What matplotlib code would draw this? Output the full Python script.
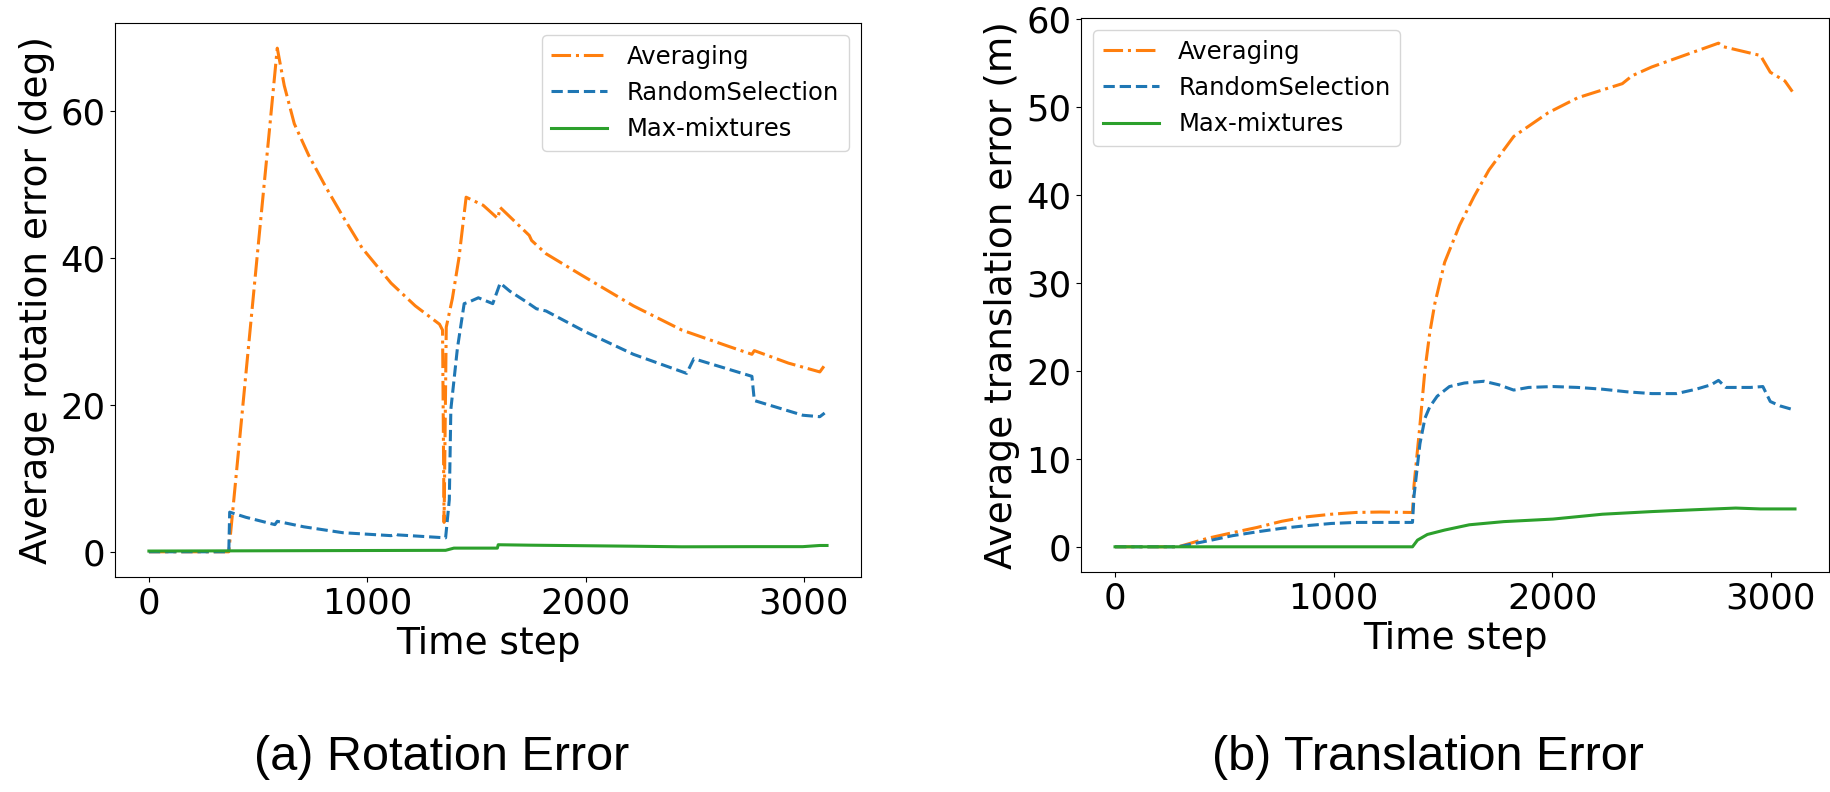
import matplotlib
matplotlib.use("Agg")
import matplotlib.pyplot as plt

# ---- rotation error (deg) ----
rot_avg_t = [0, 366, 400, 450, 500, 550, 588, 620, 666, 732, 810, 888, 976, 1109, 1220, 1331, 1345,
             1352, 1362, 1390, 1420, 1453, 1531, 1598, 1609, 1686, 1742, 1753, 1819, 1975, 2219,
             2441, 2663, 2762, 2773, 2929, 3073, 3095]
rot_avg = [0, 0, 10.5, 26.0, 41.5, 56.8, 68.6, 63.5, 58.3, 54.0, 49.7, 45.7, 41.4, 36.6, 33.5, 31.0, 30.2,
           4.0, 30.6, 34.5, 40.0, 48.3, 47.2, 45.4, 46.9, 44.7, 43.1, 42.4, 40.6, 37.8, 33.5,
           30.2, 27.9, 26.9, 27.4, 25.7, 24.5, 25.4]

rot_rnd_t = [0, 366, 370, 444, 577, 588, 710, 888, 1109, 1132, 1140, 1359, 1376, 1383, 1413, 1444,
             1464, 1509, 1575, 1609, 1653, 1731, 1775, 1819, 1997, 2219, 2463, 2496, 2762, 2773,
             2884, 2995, 3073, 3095]
rot_rnd = [0, 0, 5.4, 4.7, 3.7, 4.15, 3.4, 2.6, 2.2, 2.4, 2.3, 1.9, 7.1, 19.4, 27.7, 33.8,
           34.0, 34.6, 33.8, 36.6, 35.5, 34.0, 33.1, 32.8, 30.0, 26.9, 24.3, 26.3, 23.9, 20.6,
           19.6, 18.6, 18.4, 18.9]

rot_mm_t = [0, 1359, 1397, 1596, 1600, 1746, 2219, 2441, 2773, 2995, 3073, 3106]
rot_mm = [0.1, 0.2, 0.5, 0.5, 0.96, 0.9, 0.76, 0.68, 0.7, 0.7, 0.86, 0.86]

# ---- translation error (m) ----
tr_avg_t = [0, 289, 424, 537, 650, 763, 876, 989, 1102, 1214, 1361, 1368, 1395, 1418, 1440, 1463,
            1508, 1576, 1643, 1711, 1824, 1982, 2117, 2321, 2366, 2456, 2603, 2761, 2783, 2953,
            2998, 3065, 3099]
tr_avg = [0, 0, 0.97, 1.6, 2.2, 2.9, 3.4, 3.7, 3.9, 3.95, 3.9, 7.0, 13.8, 20.1, 24.3, 27.6,
          32.3, 36.5, 39.8, 42.8, 46.6, 49.3, 51.0, 52.6, 53.5, 54.5, 55.8, 57.2, 56.8, 55.8,
          53.9, 52.9, 51.7]

tr_rnd_t = [0, 289, 424, 537, 650, 763, 876, 989, 1102, 1361, 1368, 1395, 1418, 1440, 1474, 1530,
            1598, 1688, 1756, 1824, 1892, 2004, 2117, 2230, 2343, 2456, 2569, 2659, 2727, 2761,
            2795, 2907, 2964, 2998, 3043, 3099]
tr_rnd = [0, 0, 0.67, 1.26, 1.7, 2.1, 2.4, 2.65, 2.77, 2.77, 5.8, 11.7, 14.6, 15.9, 17.1, 18.2,
          18.6, 18.8, 18.4, 17.8, 18.1, 18.2, 18.1, 17.9, 17.6, 17.4, 17.4, 17.9, 18.4, 18.9,
          18.1, 18.1, 18.2, 16.5, 16.0, 15.6]

tr_mm_t = [0, 1361, 1384, 1429, 1508, 1621, 1779, 2004, 2230, 2456, 2682, 2840, 2953, 3111]
tr_mm = [0, 0, 0.76, 1.4, 1.9, 2.5, 2.86, 3.15, 3.7, 4.0, 4.24, 4.4, 4.3, 4.3]

labels = ["Averaging", "RandomSelection", "Max-mixtures"]

fig = plt.figure(figsize=(18.31, 7.92), dpi=100)
ax1 = fig.add_axes([0.0628, 0.2715, 0.4074, 0.6995])
ax2 = fig.add_axes([0.5904, 0.2778, 0.4085, 0.6995])

lw = 2.2
for ax, data in [(ax1, [(rot_avg_t, rot_avg), (rot_rnd_t, rot_rnd), (rot_mm_t, rot_mm)]),
                 (ax2, [(tr_avg_t, tr_avg), (tr_rnd_t, tr_rnd), (tr_mm_t, tr_mm)])]:
    ax.plot(data[0][0], data[0][1], color="tab:orange", linestyle="-.", lw=lw, label=labels[0])
    ax.plot(data[1][0], data[1][1], color="tab:blue", linestyle="--", lw=lw, label=labels[1])
    ax.plot(data[2][0], data[2][1], color="tab:green", linestyle="-", lw=lw, label=labels[2])
    ax.set_xticks([0, 1000, 2000, 3000])
    ax.tick_params(labelsize=25.5)
    ax.set_xlabel("Time step", fontsize=27)

ax1.set_yticks([0, 20, 40, 60])
ax1.set_ylabel("Average rotation error (deg)", fontsize=27)
ax2.set_yticks([0, 10, 20, 30, 40, 50, 60])
ax2.set_ylabel("Average translation error (m)", fontsize=27)

ax1.legend(loc="upper right", fontsize=17.5, handlelength=2.3)
ax2.legend(loc="upper left", fontsize=17.5, handlelength=2.3)

fig.text(442 / 1831, 1 - 757 / 792, "(a) Rotation Error", fontsize=35,
         family="Liberation Sans", ha="center", va="center")
fig.text(1428 / 1831, 1 - 757 / 792, "(b) Translation Error", fontsize=35,
         family="Liberation Sans", ha="center", va="center")

fig.savefig("out.png", dpi=100)
